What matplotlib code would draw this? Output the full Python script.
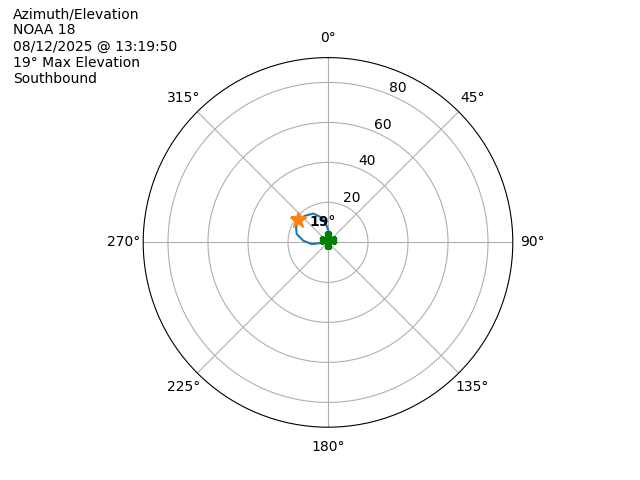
import numpy as np
import matplotlib
matplotlib.use("Agg")
import matplotlib.pyplot as plt

# pass track (azimuth deg, elevation deg)
azimuth = [262, 265, 264, 274, 285, 295, 307, 319, 333, 346, 355.5, 366, 360]
elevation = [0, 4.0, 8.2, 12.4, 16.2, 17.6, 18.7, 17.6, 16.2, 12.8, 8.3, 5.0, 1.8]

max_az = 307
max_el = 19
end_az = 0
end_el = 1.2

title_lines = ["Azimuth/Elevation", "NOAA 18", "08/12/2025 @ 13:19:50",
               "19° Max Elevation", "Southbound"]

fig = plt.figure(figsize=(6.4, 4.8), dpi=100)
ax = fig.add_subplot(111, projection="polar")
ax.set_theta_zero_location("N")
ax.set_theta_direction(-1)

ax.plot(np.radians(azimuth), elevation)
ax.plot(np.radians(max_az), 18.7, marker="*", markersize=12, color="C1")
ax.plot(np.radians(end_az), end_el, marker="P", markersize=11, color="green")
ax.text(np.radians(318), 13.5, f"{max_el}°", fontweight="bold",
        ha="left", va="center")

ax.set_rlim(0, 92.4)
ax.set_rticks([20, 40, 60, 80])

fig.text(0.02, 0.985, "\n".join(title_lines), ha="left", va="top")

fig.savefig("out.png")
